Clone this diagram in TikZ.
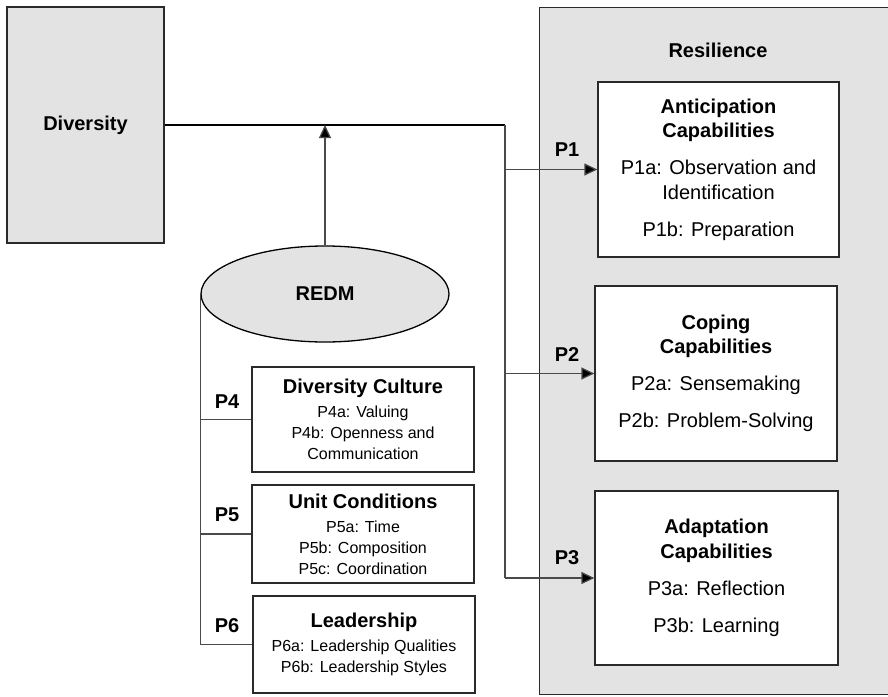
\documentclass[tikz,border=0pt]{standalone}
\usepackage{fontspec}
\setmainfont{Liberation Sans}
\usetikzlibrary{shapes.geometric,arrows.meta}
\definecolor{boxfill}{HTML}{E3E3E3}
\definecolor{edge}{HTML}{2A2A2A}
\definecolor{wire}{HTML}{4A4A4A}
\tikzset{
  gbox/.style={draw=edge,fill=boxfill,line width=1.4pt,inner sep=0pt},
  wbox/.style={draw=edge,fill=white,line width=1.2pt,inner sep=0pt,align=center},
  bigtext/.style={font=\fontsize{20}{24.5}\selectfont},
  smalltext/.style={font=\fontsize{16}{21}\selectfont},
  lbl/.style={font=\bfseries\fontsize{20}{24}\selectfont,inner sep=0pt},
  wireline/.style={draw=wire,line width=1.2pt},
  arr/.style={wireline,-{Triangle[length=13pt,width=12pt,fill=black]}},
}
\begin{document}
\begin{tikzpicture}[x=1pt,y=-1pt]
\useasboundingbox (0,0) rectangle (888,696);
\clip (0,0) rectangle (888,696);
% Resilience container
\node[gbox,minimum width=360,minimum height=687,anchor=north west] (res) at (539,7) {};
\node[lbl] (restitle) at (718,50) {Resilience};
% Diversity
\node[gbox,minimum width=157,minimum height=236,lbl] (div) at (85.5,125) {Diversity};
% REDM
\node[ellipse,draw=black,fill=boxfill,line width=1.3pt,minimum width=248,minimum height=96,inner sep=0pt,lbl] (redm) at (325,294) {REDM};
% right boxes
\node[wbox,bigtext,minimum width=241,minimum height=175] (ant) at (718.5,169.5)
 {\textbf{Anticipation}\\\textbf{Capabilities}\\[12.5pt]P1a: Observation and\\Identification\\[12.5pt]P1b: Preparation};
\node[wbox,bigtext,minimum width=242,minimum height=175] (cop) at (716,373.5)
 {\textbf{Coping}\\\textbf{Capabilities}\\[12.5pt]P2a: Sensemaking\\[12.5pt]P2b: Problem-Solving};
\node[wbox,bigtext,minimum width=243,minimum height=174] (ada) at (716.5,578)
 {\textbf{Adaptation}\\\textbf{Capabilities}\\[12.5pt]P3a: Reflection\\[12.5pt]P3b: Learning};
% left boxes
\node[wbox,smalltext,minimum width=222,minimum height=105] (dc) at (363,419.5)
 {{\bfseries\fontsize{20}{24}\selectfont Diversity Culture}\\[3pt]P4a: Valuing\\P4b: Openness and\\Communication};
\node[wbox,smalltext,minimum width=222,minimum height=98] (uc) at (363,534)
 {{\bfseries\fontsize{20}{24}\selectfont Unit Conditions}\\[3pt]P5a: Time\\P5b: Composition\\P5c: Coordination};
\node[wbox,smalltext,minimum width=222,minimum height=97] (lead) at (364,644.5)
 {{\bfseries\fontsize{20}{24}\selectfont Leadership}\\[3pt]P6a: Leadership Qualities\\P6b: Leadership Styles};
% connectors
\coordinate (jx) at (505,125);
\draw[line width=1.2pt,draw=black] (div.east) -- (jx);
\draw[wireline] (jx) -- (jx |- ada.west);
\draw[arr] (jx |- ant.west) -- (ant.west);
\draw[arr] (jx |- cop.west) -- (cop.west);
\draw[arr] (jx |- ada.west) -- (ada.west);
\draw[arr] (redm.north) -- (redm.north |- div.east);
\draw[wireline] (redm.west) -- (redm.west |- lead.west) -- (lead.west);
\draw[wireline] (redm.west |- dc.west) -- (dc.west);
\draw[wireline] (redm.west |- uc.west) -- (uc.west);
% labels
\node[lbl] (p1) at (567,150) {P1};
\node[lbl] (p2) at (567,355) {P2};
\node[lbl] (p3) at (567,558) {P3};
\node[lbl] (p4) at (227,402) {P4};
\node[lbl] (p5) at (227,515) {P5};
\node[lbl] (p6) at (227,626) {P6};
\end{tikzpicture}
\end{document}
